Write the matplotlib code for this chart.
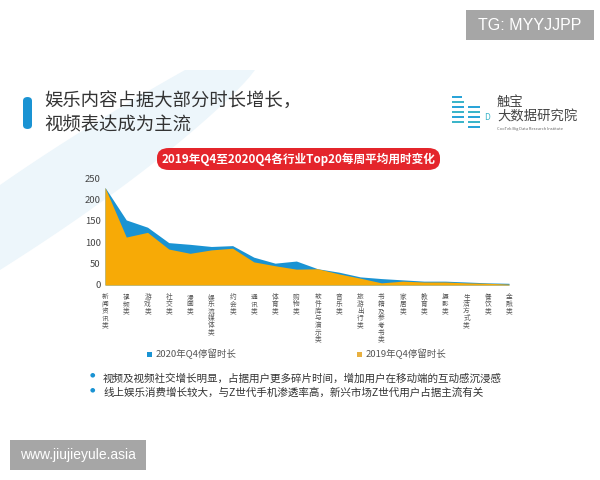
import matplotlib.pyplot as plt
import numpy as np
from matplotlib.patches import FancyBboxPatch, Polygon, Rectangle

plt.rcParams['font.family'] = ['Noto Sans CJK SC', 'DejaVu Sans']

categories = ['新闻资讯类', '视频类', '游戏类', '社交类', '漫画类', '娱乐流媒体类', '约会类',
              '通讯类', '体育类', '购物类', '软件库与演示类', '音乐类', '旅游出行类',
              '书籍及参考书类', '家居类', '教育类', '摄影类', '生活方式类', '餐饮类', '金融类']
q4_2020 = [228, 152, 135, 99, 95, 90, 92, 65, 51, 56, 38, 30, 19, 15, 12, 9, 9, 7, 5, 4]
q4_2019 = [228, 112, 123, 84, 74, 82, 86, 54, 45, 37, 38, 26, 16, 5, 9, 7, 7, 5, 4, 2]
y_ticks = [0, 50, 100, 150, 200, 250]

BLUE = '#1a93d3'
ORANGE = '#f7aa06'
W, H = 600, 480


def fx(px):
    return px / W


def fy(py):
    return 1 - py / H


fig = plt.figure(figsize=(6, 4.8), dpi=100)
fig.patch.set_facecolor('white')

# light decorative band in the background
t = np.linspace(0, 1, 40)
outer = [(fx(255 - 255 * s + 30 * s * (1 - s)), fy(70 + 200 * s ** 0.9)) for s in t]
inner = [(fx(185 - 185 * s - 20 * s * (1 - s)), fy(70 + 115 * s)) for s in t]
fig.patches.append(Polygon(outer + inner[::-1], closed=True, transform=fig.transFigure,
                           facecolor='#edf6fb', edgecolor='none', zorder=-5))

# title block
fig.patches.append(FancyBboxPatch((fx(23), fy(129)), fx(9), 32 / H,
                                  boxstyle='round,pad=0,rounding_size=0.008',
                                  transform=fig.transFigure, facecolor=BLUE,
                                  edgecolor='none'))
fig.text(fx(44), fy(102), '娱乐内容占据大部分时长增长，', fontsize=13.2, color='#333333',
         va='center', ha='left')
fig.text(fx(44), fy(125), '视频表达成为主流', fontsize=13.2, color='#333333',
         va='center', ha='left')

# logo
for i, (x0, y0, w) in enumerate([(452, 96, 10), (452, 101, 12), (452, 106, 12), (452, 111, 12),
                                 (452, 116, 12), (452, 121, 12), (468, 106, 12), (468, 111, 12),
                                 (468, 116, 12), (468, 121, 12), (468, 126, 12)]):
    fig.patches.append(Rectangle((fx(x0), fy(y0 + 2)), fx(w), 2 / H,
                                 transform=fig.transFigure,
                                 facecolor=['#2aa4d8', '#3cb5c9'][i % 2], edgecolor='none'))
fig.text(fx(484), fy(118), 'D', fontsize=6, color='#3cb5c9', va='center', ha='left')
fig.text(fx(497), fy(102), '触宝', fontsize=9.6, color='#444444', va='center', ha='left')
fig.text(fx(497), fy(117), '大数据研究院', fontsize=9.6, color='#444444', va='center', ha='left')
fig.text(fx(497), fy(129), 'CooTek Big Data Research Institute', fontsize=2.9, color='#666666',
         va='center', ha='left')

# red subtitle pill
fig.patches.append(FancyBboxPatch((fx(157), fy(170)), fx(283), 22 / H,
                                  boxstyle='round,pad=0,rounding_size=0.02',
                                  transform=fig.transFigure, facecolor='#e4252b',
                                  edgecolor='none'))
fig.text(fx(299), fy(159), '2019年Q4至2020Q4各行业Top20每周平均用时变化', fontsize=8.4,
         fontweight='bold', color='white', va='center', ha='center')

# chart
ax = fig.add_axes([fx(105), fy(285), fx(404), 107 / H])
ax.set_facecolor('none')
x = np.arange(len(categories))
ax.fill_between(x, 0, q4_2020, color=BLUE, linewidth=0)
ax.fill_between(x, 0, q4_2019, color=ORANGE, linewidth=0)
ax.set_xlim(0, len(categories) - 1)
ax.set_ylim(0, 250)
ax.set_yticks(y_ticks)
ax.set_yticklabels([str(v) for v in y_ticks], fontsize=6.8, color='#444444')
ax.set_xticks(x)
ax.set_xticklabels(['\n'.join(c) for c in categories], fontsize=4.8, color='#555555',
                   va='top', linespacing=0.84)
ax.tick_params(axis='both', length=0, pad=3)
ax.tick_params(axis='x', pad=6)
for s in ax.spines.values():
    s.set_visible(False)

# legend
fig.patches.append(Rectangle((fx(147), fy(357)), fx(5), 5 / H, transform=fig.transFigure,
                             facecolor=BLUE, edgecolor='none'))
fig.text(fx(156), fy(354), '2020年Q4停留时长', fontsize=6.8, color='#555555',
         va='center', ha='left')
fig.patches.append(Rectangle((fx(357), fy(357)), fx(5), 5 / H, transform=fig.transFigure,
                             facecolor='#e8b040', edgecolor='none'))
fig.text(fx(366), fy(354), '2019年Q4停留时长', fontsize=6.8, color='#555555',
         va='center', ha='left')

# bullet notes
notes = ['视频及视频社交增长明显，占据用户更多碎片时间，增加用户在移动端的互动感沉浸感',
         '线上娱乐消费增长较大，与Z世代手机渗透率高，新兴市场Z世代用户占据主流有关']
for i, note in enumerate(notes):
    yy = 378 + 15 * i
    fig.text(fx(92), fy(yy - 3), '●', fontsize=4.5, color=BLUE, va='center', ha='center',
             family='DejaVu Sans')
    fig.text(fx(103), fy(yy), note, fontsize=7.6, color='#333333', va='center', ha='left')

# watermarks
fig.patches.append(Rectangle((fx(466), fy(40)), fx(128), 30 / H, transform=fig.transFigure,
                             facecolor='#a6a6a6', edgecolor='none'))
fig.text(fx(530), fy(25.5), 'TG: MYYJJPP', fontsize=11.5, color='white', va='center',
         ha='center', family='Liberation Sans')
fig.patches.append(Rectangle((fx(10), fy(470)), fx(136), 30 / H, transform=fig.transFigure,
                             facecolor='#a6a6a6', edgecolor='none'))
fig.text(fx(78), fy(455.5), 'www.jiujieyule.asia', fontsize=10, color='white',
         va='center', ha='center', family='Liberation Sans')

fig.savefig('out.png', dpi=100)
